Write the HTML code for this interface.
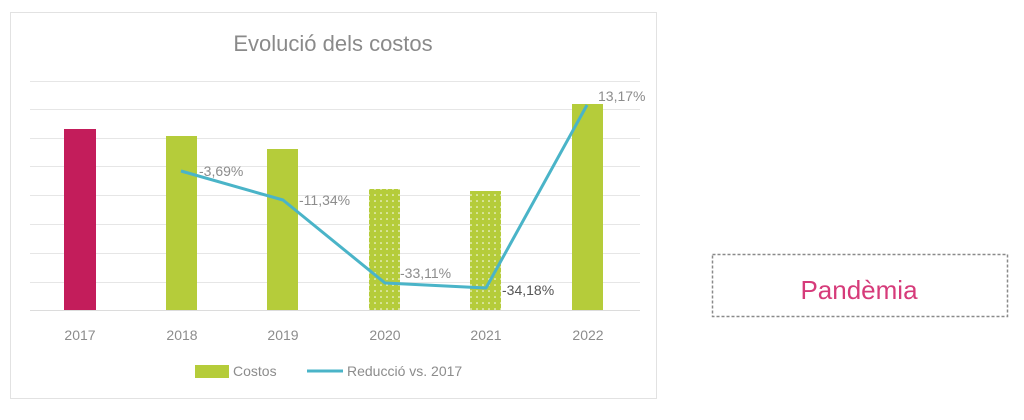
<!DOCTYPE html>
<html><head><meta charset="utf-8"><style>
body{margin:0;background:#fff;width:1024px;height:415px;overflow:hidden;font-family:"Liberation Sans",sans-serif}
</style></head><body>
<svg width="1024" height="415" xmlns="http://www.w3.org/2000/svg" font-family="Liberation Sans, sans-serif">
<defs>
<pattern id="dots" width="6" height="6" patternUnits="userSpaceOnUse">
<rect width="6" height="6" fill="#b5cc3a"/><circle cx="3" cy="3" r="0.8" fill="#fff"/>
</pattern>
</defs>
<rect x="10.5" y="12.5" width="646" height="386" fill="#fff" stroke="#e2e2e2"/>
<text x="333" y="51" text-anchor="middle" font-size="22" fill="#8a8a8a">Evolució dels costos</text>
<g stroke="#e6e6e6" stroke-width="1">
<line x1="30" x2="640" y1="81.5" y2="81.5"/><line x1="30" x2="640" y1="109.5" y2="109.5"/>
<line x1="30" x2="640" y1="138.5" y2="138.5"/><line x1="30" x2="640" y1="166.5" y2="166.5"/>
<line x1="30" x2="640" y1="195.5" y2="195.5"/><line x1="30" x2="640" y1="224.5" y2="224.5"/>
<line x1="30" x2="640" y1="253.5" y2="253.5"/><line x1="30" x2="640" y1="282.5" y2="282.5"/>
</g>
<rect x="64" y="129" width="32" height="181" fill="#c31d5b"/>
<rect x="166" y="136" width="31" height="174" fill="#b5cc3a"/>
<rect x="267" y="149" width="31" height="161" fill="#b5cc3a"/>
<rect x="369" y="189" width="31" height="121" fill="url(#dots)"/>
<rect x="470" y="191" width="31" height="119" fill="url(#dots)"/>
<rect x="572" y="104" width="31" height="206" fill="#b5cc3a"/>
<line x1="30" x2="640" y1="310.5" y2="310.5" stroke="#dcdcdc"/>
<polyline points="181,171 283,200 385,283 486,288 587,105" fill="none" stroke="#4ab4c8" stroke-width="3" stroke-linejoin="round"/>
<g font-size="14" fill="#8c8c8c">
<text x="199" y="176">-3,69%</text>
<text x="299" y="205">-11,34%</text>
<text x="400" y="253" dy="25">-33,11%</text>
<text x="502" y="295" fill="#555">-34,18%</text>
<text x="598" y="101">13,17%</text>
</g>
<g font-size="14" fill="#8c8c8c" text-anchor="middle">
<text x="80" y="340">2017</text><text x="182" y="340">2018</text><text x="283" y="340">2019</text>
<text x="385" y="340">2020</text><text x="486" y="340">2021</text><text x="588" y="340">2022</text>
</g>
<rect x="195" y="365" width="34" height="13" fill="#b5cc3a"/>
<text x="233" y="376" font-size="14" fill="#8c8c8c">Costos</text>
<line x1="307" x2="343" y1="371" y2="371" stroke="#4ab4c8" stroke-width="3"/>
<text x="347" y="376" font-size="14" fill="#8c8c8c">Reducció vs. 2017</text>
<rect x="712.5" y="254.5" width="295" height="62" fill="#fff" stroke="#8a8a8a" stroke-width="1.5" stroke-dasharray="3,2"/>
<text x="859" y="299" text-anchor="middle" font-size="26" fill="#d63b7a">Pandèmia</text>
</svg>
</body></html>
